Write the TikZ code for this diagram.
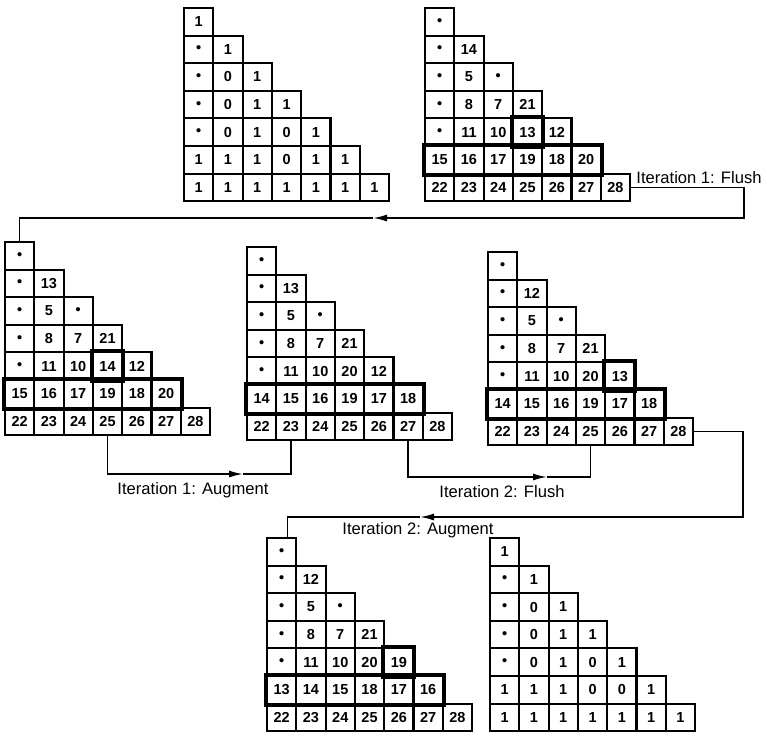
\documentclass[tikz,border=0pt]{standalone}
\usepackage{fontspec}
\setmainfont{Liberation Sans}
\usetikzlibrary{arrows.meta}

%-- cell size (pt) and the dot entry --
\newcommand{\cw}{29.3}
\newcommand{\ch}{27.6}
\newcommand{\bul}{\textbullet}

%-- lower triangle of cells: name, left, top, rows --
\newcommand{\trimat}[4]{%
  \foreach \row [count=\i] in {#4} {
    \foreach \val [count=\j] in \row {
      \node[cell] (#1-\i-\j) at ({#2+(\j-0.5)*\cw}, {#3+(\i-0.5)*\ch}) {\val};
    }
  }%
}

\begin{document}
\begin{tikzpicture}[x=1pt, y=-1pt,
    cell/.style={draw, line width=2.1pt, minimum width=\cw pt, minimum height=\ch pt,
        inner sep=0pt, font=\fontsize{14.5}{14.5}\selectfont\bfseries},
    frame/.style={line width=3.8pt},
    link/.style={line width=1.6pt},
    tip/.style={-{Latex[length=14pt,width=7pt]}},
    lbl/.style={font=\fontsize{16.6}{18}\selectfont, inner sep=1pt}]

        \useasboundingbox (0,0) rectangle (767,736);

        %-- the seven matrices --
        \trimat{m1}{184}{8}{{1},{\bul,1},{\bul,0,1},{\bul,0,1,1},{\bul,0,1,0,1},
            {1,1,1,0,1,1},{1,1,1,1,1,1,1}}
        \trimat{m2}{425}{8}{{\bul},{\bul,14},{\bul,5,\bul},{\bul,8,7,21},{\bul,11,10,13,12},
            {15,16,17,19,18,20},{22,23,24,25,26,27,28}}
        \trimat{m3}{5}{242}{{\bul},{\bul,13},{\bul,5,\bul},{\bul,8,7,21},{\bul,11,10,14,12},
            {15,16,17,19,18,20},{22,23,24,25,26,27,28}}
        \trimat{m4}{247}{247}{{\bul},{\bul,13},{\bul,5,\bul},{\bul,8,7,21},{\bul,11,10,20,12},
            {14,15,16,19,17,18},{22,23,24,25,26,27,28}}
        \trimat{m5}{488}{252}{{\bul},{\bul,12},{\bul,5,\bul},{\bul,8,7,21},{\bul,11,10,20,13},
            {14,15,16,19,17,18},{22,23,24,25,26,27,28}}
        \trimat{m6}{267}{538}{{\bul},{\bul,12},{\bul,5,\bul},{\bul,8,7,21},{\bul,11,10,20,19},
            {13,14,15,18,17,16},{22,23,24,25,26,27,28}}
        \trimat{m7}{490}{538}{{1},{\bul,1},{\bul,0,1},{\bul,0,1,1},{\bul,0,1,0,1},
            {1,1,1,0,0,1},{1,1,1,1,1,1,1}}

        %-- heavy frames: pivot row and pivot cell --
        \draw[frame] (m2-6-1.north west) rectangle (m2-6-6.south east);
        \draw[frame] (m2-5-4.north west) rectangle (m2-5-4.south east);
        \draw[frame] (m3-6-1.north west) rectangle (m3-6-6.south east);
        \draw[frame] (m3-5-4.north west) rectangle (m3-5-4.south east);
        \draw[frame] (m4-6-1.north west) rectangle (m4-6-6.south east);
        \draw[frame] (m5-6-1.north west) rectangle (m5-6-6.south east);
        \draw[frame] (m5-5-5.north west) rectangle (m5-5-5.south east);
        \draw[frame] (m6-6-1.north west) rectangle (m6-6-6.south east);
        \draw[frame] (m6-5-5.north west) rectangle (m6-5-5.south east);

        %-- bends and arrow tips of the connectors --
        \coordinate (f1c)   at (744,218);
        \coordinate (f1tip) at (373,218);
        \coordinate (a1tip) at (243,474);
        \coordinate (f2tip) at (547,477);
        \coordinate (a2c)   at (743,517);
        \coordinate (a2tip) at (420,517);

        %-- Iteration 1: Flush --
        \draw[link, tip] (m2-7-7.east) -| (f1c) -- (f1tip);
        \draw[link] (f1tip) -| (m3-1-1.north);

        %-- Iteration 1: Augment --
        \draw[link, tip] (m3-7-4.south) |- (a1tip);
        \draw[link] (a1tip) -| (m4-7-2.south);

        %-- Iteration 2: Flush --
        \draw[link, tip] (m4-7-6.south) |- (f2tip);
        \draw[link] (f2tip) -| (m5-7-4.south);

        %-- Iteration 2: Augment --
        \draw[link, tip] (m5-7-7.east) -| (a2c) -- (a2tip);
        \draw[link] (a2tip) -| ([xshift=6pt]m6-1-1.north);

        %-- labels --
        \node[lbl] (l-f1) at (699,178) {Iteration 1: Flush};
        \node[lbl] (l-a1) at (193,490) {Iteration 1: Augment};
        \node[lbl] (l-f2) at (502,492) {Iteration 2: Flush};
        \node[lbl] (l-a2) at (418,530) {Iteration 2: Augment};

    \end{tikzpicture}
\end{document}
